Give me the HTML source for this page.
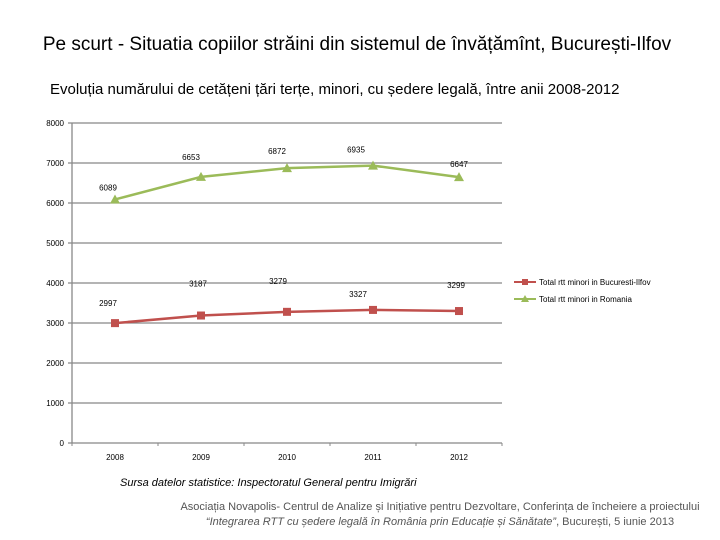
<!DOCTYPE html>
<html><head><meta charset="utf-8"><style>
body{margin:0;background:#fff;font-family:"Liberation Sans",sans-serif}
#w{position:relative;width:720px;height:540px;overflow:hidden}
.t{position:absolute;white-space:nowrap}
</style></head><body><div id="w">
<div class="t" style="left:0;width:714px;text-align:center;top:34px;font-size:19px;color:#000">Pe scurt - Situatia copiilor străini din sistemul de învățămînt, București-Ilfov</div>
<div class="t" style="left:50px;top:81px;font-size:15px;color:#000">Evoluția numărului de cetățeni țări terțe, minori, cu ședere legală, între anii 2008-2012</div>
<svg id="c" width="720" height="470" style="position:absolute;left:0;top:0"></svg>
<div class="t" style="left:120px;top:477px;font-size:11px;font-style:italic">Sursa datelor statistice: Inspectoratul General pentru Imigrări</div>
<div class="t" style="left:160px;width:560px;text-align:center;top:501px;font-size:11px;color:#555">Asociația Novapolis- Centrul de Analize și Inițiative pentru Dezvoltare, Conferința de încheiere a proiectului</div>
<div class="t" style="left:160px;width:560px;text-align:center;top:516px;font-size:11px;color:#555"><i>“Integrarea RTT cu ședere legală în România prin Educație și Sănătate”</i>, București, 5 iunie 2013</div>
</div>
<script>
const categories=['2008','2009','2010','2011','2012'];
const bucuresti=[2997,3187,3279,3327,3299];
const romania=[6089,6653,6872,6935,6647];
const yTicks=[0,1000,2000,3000,4000,5000,6000,7000,8000];
const svg=document.getElementById('c');const NS='http://www.w3.org/2000/svg';
const x0=72,x1=502,y0=443,yTop=123,ymax=8000;
const band=(x1-x0)/categories.length;
const X=i=>x0+band*(i+0.5);const Y=v=>y0-(v/ymax)*(y0-yTop);
function el(t,a,p){const e=document.createElementNS(NS,t);for(const k in a)e.setAttribute(k,a[k]);(p||svg).appendChild(e);return e;}
yTicks.forEach(v=>{
 const l=el('line',{x1:x0-4,x2:x1,y1:Y(v),y2:Y(v),stroke:'#888','stroke-width':1.3});
 
 
 const t=el('text',{x:x0-8,y:Y(v)+3,'text-anchor':'end','font-size':8,'font-family':'Liberation Sans'});t.textContent=v;
 
 
});
el('line',{x1:x0,x2:x0,y1:yTop,y2:y0,stroke:'#888','stroke-width':1.3});
for(let i=0;i<=categories.length;i++)el('line',{x1:x0+band*i,x2:x0+band*i,y1:y0,y2:y0+3,stroke:'#888'});
categories.forEach((c,i)=>{const t=el('text',{x:X(i),y:y0+17,'text-anchor':'middle','font-size':8,'font-family':'Liberation Sans'});t.textContent=c;
 
 });
function series(vals,color,name,marker,lab){
 const p=el('polyline',{points:vals.map((v,i)=>X(i)+','+Y(v)).join(' '),fill:'none',stroke:color,'stroke-width':2.5});
 
 
 vals.forEach((v,i)=>{let m;const cx=X(i),cy=Y(v);
  if(marker==='sq')m=el('rect',{x:cx-4,y:cy-4,width:8,height:8,fill:color});
  else m=el('polygon',{points:`${cx},${cy-5} ${cx+5},${cy+4} ${cx-5},${cy+4}`,fill:color});
  
  
  const o=lab[i];const t=el('text',{x:cx+o[0],y:cy+o[1],'text-anchor':'middle','font-size':8,'font-family':'Liberation Sans'});t.textContent=v;
  
  });
}
series(bucuresti,'#c0504d','bucuresti','sq',[[-7,-17],[-3,-29],[-9,-28],[-15,-13],[-3,-23]]);
series(romania,'#9bbb59','romania','tri',[[-7,-9],[-10,-17],[-10,-14],[-17,-13],[0,-10]]);
const lg=[['Total rtt minori in Bucuresti-Ilfov','#c0504d','sq',282],['Total rtt minori in Romania','#9bbb59','tri',299]];
lg.forEach(([n,c,m,y])=>{el('line',{x1:514,x2:536,y1:y,y2:y,stroke:c,'stroke-width':2});
 if(m==='sq')el('rect',{x:522,y:y-3,width:6,height:6,fill:c});else el('polygon',{points:`525,${y-4} 529,${y+3} 521,${y+3}`,fill:c});
 const t=el('text',{x:539,y:y+3,'font-size':8,'font-family':'Liberation Sans'});t.textContent=n;
 
 });
</script></body></html>
